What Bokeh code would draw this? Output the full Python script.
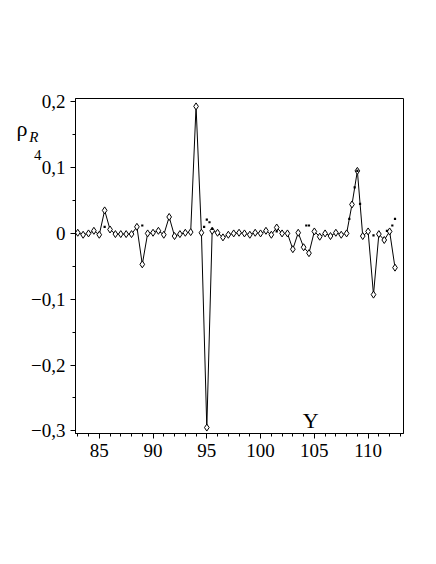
from bokeh.plotting import figure
from bokeh.models import FixedTicker, Label, CustomJSTickFormatter, LinearAxis
from bokeh.embed import file_html
from bokeh.resources import INLINE

# ---- data ----
x_vals = [83.0, 83.5, 84.0, 84.5, 85.0, 85.5, 86.0, 86.5, 87.0, 87.5,
          88.0, 88.5, 89.0, 89.5, 90.0, 90.5, 91.0, 91.5, 92.0, 92.5,
          93.0, 93.5, 94.0, 94.5, 95.0, 95.5, 96.0, 96.5, 97.0, 97.5,
          98.0, 98.5, 99.0, 99.5, 100.0, 100.5, 101.0, 101.5, 102.0, 102.5,
          103.0, 103.5, 104.0, 104.5, 105.0, 105.5, 106.0, 106.5, 107.0, 107.5,
          108.0, 108.5, 109.0, 109.5, 110.0, 110.5, 111.0, 111.5, 112.0, 112.5]
rho_vals = [0.001, -0.002, 0.000, 0.004, -0.002, 0.035, 0.006, -0.001, -0.001, -0.001,
            -0.001, 0.010, -0.047, 0.000, 0.001, 0.004, -0.002, 0.025, -0.004, -0.001,
            0.001, 0.002, 0.193, 0.001, -0.295, 0.004, 0.001, -0.006, -0.002, 0.000,
            0.001, 0.000, -0.002, 0.001, 0.000, 0.004, -0.002, 0.009, 0.000, 0.000,
            -0.024, 0.001, -0.021, -0.030, 0.003, -0.005, 0.000, -0.004, 0.001, -0.002,
            0.000, 0.044, 0.095, -0.004, 0.003, -0.093, -0.001, -0.010, 0.003, -0.052]

dot_x = [85.5, 89.0, 94.75, 95.0, 95.25, 95.5, 101.5, 104.25, 104.5,
         108.25, 108.75, 109.0, 109.25, 110.5, 111.75, 112.25, 112.5]
dot_y = [0.010, 0.012, 0.010, 0.021, 0.017, 0.007, 0.003, 0.012, 0.012,
         0.022, 0.070, 0.095, 0.045, -0.003, 0.004, 0.012, 0.022]

x_major = [85, 90, 95, 100, 105, 110]
x_minor = list(range(83, 114))
y_major = [-0.3, -0.2, -0.1, 0.0, 0.1, 0.2]
y_minor = [-0.3, -0.25, -0.2, -0.15, -0.1, -0.05, 0.0, 0.05, 0.1, 0.15, 0.2]

FONT = "Liberation Serif"

p = figure(width=420, height=548, x_range=(82.79, 113.29), y_range=(-0.304, 0.205),
           output_backend="svg", toolbar_location=None,
           min_border_left=75, min_border_right=17, min_border_top=98, min_border_bottom=115)
p.background_fill_color = "white"
p.border_fill_color = "white"
p.outline_line_color = "black"
p.outline_line_alpha = 1.0
p.outline_line_width = 1
p.xgrid.visible = False
p.ygrid.visible = False

for ax in (p.xaxis[0], p.yaxis[0]):
    ax.axis_line_color = "black"
    ax.major_tick_line_color = "black"
    ax.minor_tick_line_color = "black"
    ax.major_tick_in = 0
    ax.major_tick_out = 5
    ax.minor_tick_in = 0
    ax.minor_tick_out = 3
    ax.major_label_text_font = FONT
    ax.major_label_text_font_size = "19px"
    ax.major_label_text_color = "black"

p.xaxis.ticker = FixedTicker(ticks=x_major, minor_ticks=x_minor)
p.yaxis.ticker = FixedTicker(ticks=y_major, minor_ticks=y_minor)
p.xaxis.major_label_standoff = 5
p.yaxis.major_label_standoff = 5
p.yaxis.formatter = CustomJSTickFormatter(code="""
  if (Math.abs(tick) < 1e-9) return '0';
  return (tick < 0 ? '\u2212' : '') + Math.abs(tick).toFixed(1).replace('.', ',');
""")

p.line(x_vals, rho_vals, line_color="black", line_width=1)
p.scatter(x_vals, rho_vals, marker="diamond", size=7, fill_color="white",
          line_color="black", line_width=1)
p.scatter(dot_x, dot_y, marker="square", size=2.2, fill_color="black", line_color=None)

p.add_layout(Label(x=104.67, y=-0.285, text="Y", text_font=FONT, text_font_size="22px",
                   text_align="center", text_baseline="alphabetic", text_color="black"))

# y-axis title rho_{R_4}: each piece is the single label of a bare side axis,
# stacked to the left of the tick axis
# (text, y of its centre, label standoff, size, style)
ylab_parts = [("ρ", 0.1601, 1, "22px", "normal"),
              ("\u00a0\u00a0\u00a0\u00a0R", 0.1459, -25, "15px", "italic"),
              ("4", 0.1185, -30, "15px", "normal")]
for txt, fy, so, fs, st in ylab_parts:
    a = LinearAxis(ticker=FixedTicker(ticks=[fy], minor_ticks=[]),
                   formatter=CustomJSTickFormatter(code="return '%s';" % txt))
    a.axis_line_color = None
    a.major_tick_line_color = None
    a.minor_tick_line_color = None
    a.major_tick_in = 0
    a.major_tick_out = 0
    a.minor_tick_in = 0
    a.minor_tick_out = 0
    a.major_label_standoff = so
    a.major_label_text_font = FONT
    a.major_label_text_font_size = fs
    a.major_label_text_font_style = st
    a.major_label_text_color = "black"
    p.add_layout(a, "left")

open("out.html", "w").write(file_html(p, INLINE))
